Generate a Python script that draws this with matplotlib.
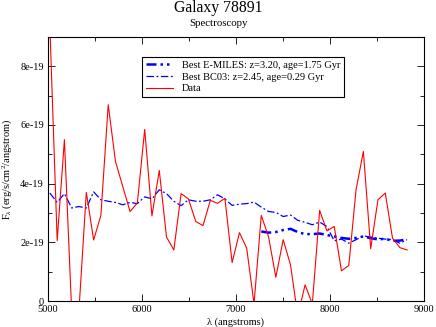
import matplotlib
matplotlib.use("Agg")
import matplotlib.pyplot as plt
from matplotlib.ticker import MultipleLocator, FuncFormatter

plt.rcParams['font.family'] = ['Liberation Serif', 'DejaVu Serif']
plt.rcParams['mathtext.fontset'] = 'custom'
plt.rcParams['mathtext.rm'] = 'Liberation Serif'
plt.rcParams['mathtext.it'] = 'Liberation Serif:italic'

# wavelength grid (angstrom)
wave = [5020, 5098, 5175, 5253, 5330, 5408, 5486, 5563, 5641, 5718,
        5796, 5873, 5951, 6029, 6106, 6184, 6261, 6339, 6416, 6494,
        6572, 6649, 6727, 6804, 6882, 6959, 7037, 7114, 7192, 7269,
        7347, 7424, 7502, 7580, 7657, 7735, 7812, 7890, 7967, 8045,
        8122, 8200, 8277, 8355, 8433, 8510, 8588, 8665, 8743, 8820]

# fluxes in units of 1e-19 erg/s/cm2/A
data_flux = [9.4, 2.06, 5.5, -0.4, -0.3, 3.7, 2.08, 2.92, 6.69, 4.76,
             3.9, 3.05, 3.34, 5.85, 2.9, 4.45, 2.18, 1.74, 3.66, 3.48,
             2.71, 2.57, 3.43, 3.33, 3.5, 1.31, 2.33, 1.8, -0.1, 2.92,
             2.18, 0.81, 2.09, 1.23, -0.5, 0.55, -0.1, 3.09, 2.39, 2.54,
             1.03, 1.21, 3.79, 5.1, 1.78, 3.45, 3.68, 2.14, 1.82, 1.74]

bc03_flux = [3.68, 3.36, 3.66, 3.17, 3.22, 3.17, 3.72, 3.45, 3.4, 3.36,
             3.28, 3.36, 3.32, 3.55, 3.48, 3.79, 3.66, 3.4, 3.25, 3.45,
             3.4, 3.4, 3.45, 3.62, 3.48, 3.26, 3.3, 3.32, 3.37, 3.2,
             3.05, 3.02, 2.88, 2.93, 2.75, 2.68, 2.6, 2.69, 2.54, 2.05,
             2.11, 1.97, 2.09, 2.22, 2.18, 2.14, 2.11, 2.09, 1.97, 2.09]

emiles_wave = wave[29:]
emiles_flux = [2.37, 2.33, 2.35, 2.42, 2.46, 2.35, 2.28, 2.28, 2.3, 2.25,
               2.2, 2.15, 2.12, 2.15, 2.2, 2.14, 2.1, 2.12, 2.05, 2.06, 2.1]

scale = 1e-19

fig = plt.figure(figsize=(4.36, 3.27), dpi=100)
ax = fig.add_axes([0.110, 0.0795, 0.8625, 0.8075])

ax.plot(emiles_wave, [v * scale for v in emiles_flux], color='blue',
        lw=1.8, ls=(0, (4, 1.6, 1, 1.6, 1, 1.6)),
        label='Best E-MILES: z=3.20, age=1.75 Gyr')
ax.plot(wave, [v * scale for v in bc03_flux], color='blue',
        lw=0.9, ls=(0, (6, 2, 1.5, 2)), label='Best BC03: z=2.45, age=0.29 Gyr')
ax.plot(wave, [v * scale for v in data_flux], color='red', lw=0.8, label='Data')

ax.set_xlim(5000, 9000)
ax.set_ylim(0, 9e-19)
ax.xaxis.set_major_locator(MultipleLocator(1000))
ax.xaxis.set_minor_locator(MultipleLocator(500))
ax.yaxis.set_major_locator(MultipleLocator(2e-19))
ax.yaxis.set_minor_locator(MultipleLocator(1e-19))

def yfmt(v, pos):
    n = int(round(v / 1e-19))
    return '0' if n == 0 else '%de-19' % n

ax.yaxis.set_major_formatter(FuncFormatter(yfmt))
ax.tick_params(which='both', direction='in', top=True, right=True,
               labelsize=7.5, width=0.6, pad=3)
ax.tick_params(which='major', length=5)
ax.tick_params(which='minor', length=3)
for s in ax.spines.values():
    s.set_linewidth(0.8)

ax.set_xlabel('λ (angstroms)', fontsize=7.5, labelpad=2)
ax.set_ylabel('F$_\\lambda$ (erg/s/cm$^2$/angstrom)', fontsize=7.5, labelpad=4)

fig.text(0.5, 0.976, 'Galaxy 78891', ha='center', va='center', fontsize=11.3)
fig.text(0.5, 0.927, 'Spectroscopy', ha='center', va='center', fontsize=7.8)

leg = ax.legend(loc='upper left', bbox_to_anchor=(0.25, 0.925), fontsize=7.5,
                frameon=True, fancybox=False, framealpha=1, edgecolor='black',
                handlelength=2.6, borderpad=0.35, labelspacing=0.25,
                handletextpad=0.9, borderaxespad=0)
leg.get_frame().set_linewidth(0.8)

fig.savefig('out.png', dpi=100)
